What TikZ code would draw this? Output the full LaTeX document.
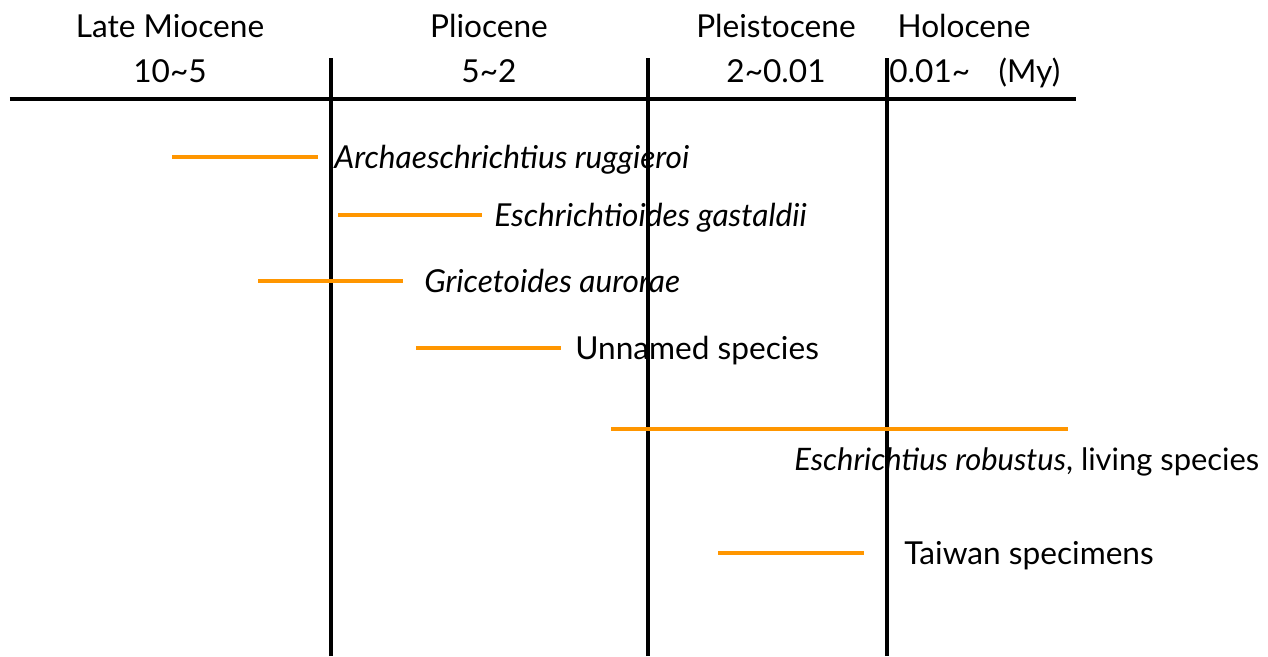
\documentclass[tikz,border=0pt]{standalone}
\usepackage{fontspec}
\setmainfont{Lato}
\definecolor{barorange}{HTML}{FF9600}

\begin{document}
\begin{tikzpicture}[
  epochline/.style={black, line width=1.8pt},
  rangebar/.style={barorange, line width=1.8pt},
  epochname/.style={inner sep=0pt, anchor=base, font=\fontsize{18}{21}\selectfont},
  taxon/.style={inner sep=0pt, anchor=base west, font=\fontsize{18}{21}\selectfont}]
\useasboundingbox (0,0) rectangle (25.36,13.12);
% time axis
\draw[epochline, line width=2pt] (0.200,11.140) -- (21.520,11.140);
\draw[epochline] (6.620,0.000) -- ++(0,11.96);
\draw[epochline] (12.960,0.000) -- ++(0,11.96);
\draw[epochline] (17.740,0.000) -- ++(0,11.96);
% epochs
\node[epochname] (miocene) at (3.400,12.360) {Late Miocene};
\node[epochname] (miocenerange) at (3.400,11.480) {10\char`\~5};
\node[epochname] (pliocene) at (9.780,12.360) {Pliocene};
\node[epochname] (pliocenerange) at (9.780,11.480) {5\char`\~2};
\node[epochname] (pleistocene) at (15.520,12.360) {Pleistocene};
\node[epochname] (pleistocenerange) at (15.520,11.480) {2\char`\~0.01};
\node[epochname] (holocene) at (19.280,12.360) {Holocene};
\node[epochname, anchor=base west] (holocenerange) at (17.780,11.480) {0.01\char`\~\hspace{0.9em}(My)};
% ranges
\draw[rangebar] (3.440,9.980) -- (6.360,9.980);
\node[taxon] (ruggieroi) at (6.680,9.760) {\itshape Archaeschrichtius ruggieroi};
\draw[rangebar] (6.760,8.820) -- (9.640,8.820);
\node[taxon] (gastaldii) at (9.880,8.600) {\itshape Eschrichtioides gastaldii};
\draw[rangebar] (5.160,7.500) -- (8.060,7.500);
\node[taxon] (aurorae) at (8.480,7.280) {\itshape Gricetoides aurorae};
\draw[rangebar] (8.320,6.160) -- (11.220,6.160);
\node[taxon] (unnamed) at (11.500,5.940) {Unnamed species};
\draw[rangebar] (12.220,4.540) -- (21.360,4.540);
\node[taxon, font=\fontsize{17.6}{21}\selectfont] (robustus) at (15.880,3.720) {\textit{Eschrichtius robustus}, living species};
\draw[rangebar] (14.360,2.060) -- (17.280,2.060);
\node[taxon] (taiwan) at (18.080,1.840) {Taiwan specimens};
\end{tikzpicture}
\end{document}
